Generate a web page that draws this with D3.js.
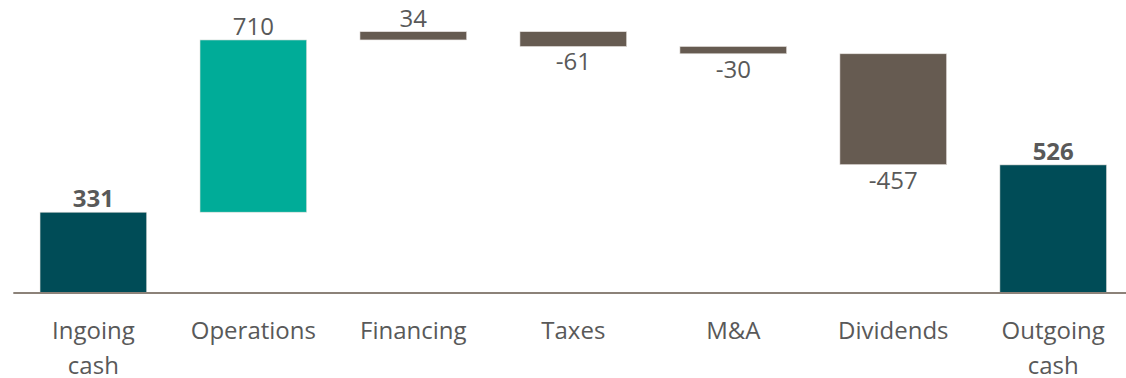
<!DOCTYPE html>
<html><head><meta charset="utf-8">
<script src="https://cdn.jsdelivr.net/npm/d3@7"></script>
<style>body{margin:0;background:#fff}svg{display:block}</style>
</head><body><svg id="c" width="1126" height="378"></svg>
<script>
const categories = [["Ingoing","cash"],["Operations"],["Financing"],["Taxes"],["M&A"],["Dividends"],["Outgoing","cash"]];
const values = [331, 710, 34, -61, -30, -457, 526];
const kinds = ["total","pos","delta","delta","delta","delta","total"];
const colors = {total:"#004C57", pos:"#00AC98", delta:"#665B51"};

const svg = d3.select("#c");
const keys = categories.map(c => c.join(" "));
let run = 0;
const data = values.map((v,i) => {
  let y0, y1;
  if (kinds[i] === "total") { y0 = 0; y1 = v; run = v; }
  else { y0 = run; y1 = run + v; run = y1; }
  return {key: keys[i], lab: categories[i], v, y0, y1, kind: kinds[i]};
});
const x = d3.scaleBand().domain(keys).range([13.3, 1133.3]).paddingInner(0.333).paddingOuter(0.167);
const y = d3.scaleLinear().domain([0, 1075]).range([292.5, 31.7]);

svg.selectAll("rect.bar").data(data).join("rect")
  .attr("x", d => x(d.key)).attr("width", x.bandwidth())
  .attr("y", d => y(Math.max(d.y0, d.y1)))
  .attr("height", d => Math.abs(y(d.y0) - y(d.y1)))
  .attr("fill", d => colors[d.kind])
  .attr("stroke", "#e6e2de").attr("stroke-width", 0.6);

svg.append("line").attr("x1", 13.3).attr("x2", 1126).attr("y1", y(0)+0.5).attr("y2", y(0)+0.5)
  .attr("stroke", "#8c8279").attr("stroke-width", 1.8);

const font = "'Open Sans', 'Noto Sans', sans-serif";
svg.selectAll("text.val").data(data).join("text")
  .attr("x", d => x(d.key) + x.bandwidth()/2)
  .attr("y", d => d.v >= 0 ? y(Math.max(d.y0,d.y1)) - 5 : y(Math.min(d.y0,d.y1)) + 24)
  .attr("text-anchor", "middle")
  .attr("font-family", font).attr("font-size", 24)
  .attr("font-weight", d => d.kind === "total" ? 700 : 400)
  .attr("fill", "#595959")
  .text(d => d.v);

const lab = svg.selectAll("text.cat").data(data).join("text")
  .attr("text-anchor", "middle").attr("font-family", font).attr("font-size", 24).attr("fill", "#595959");
lab.selectAll("tspan").data(d => d.lab.map(t => ({t, cx: x(d.key) + x.bandwidth()/2}))).join("tspan")
  .attr("x", d => d.cx).attr("y", (d,i) => 339 + i*34.5).text(d => d.t);
</script></body></html>
